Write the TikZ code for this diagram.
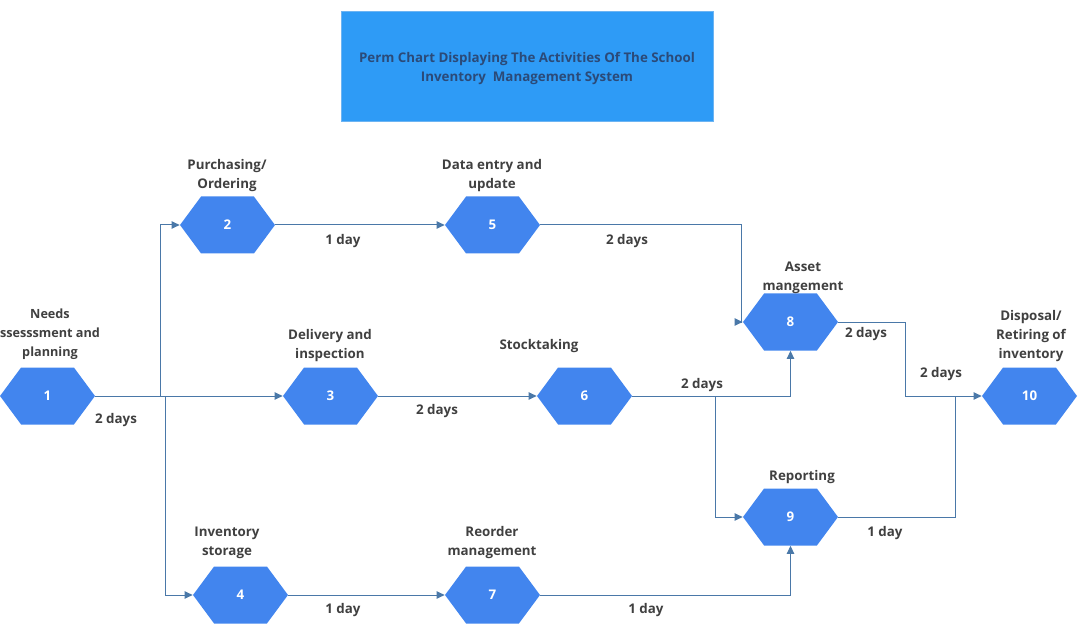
\documentclass[tikz,border=0pt]{standalone}
\usepackage{fontspec}
\setmainfont{Open Sans}
\usepackage{tikz}
\usetikzlibrary{arrows.meta,shapes.symbols}
\definecolor{hexblue}{HTML}{4285EE}
\definecolor{titleblue}{HTML}{2E9BF6}
\definecolor{titleedge}{HTML}{6DB4F2}
\definecolor{titleink}{HTML}{2B4A78}
\definecolor{lineblue}{HTML}{4A78A8}
\definecolor{labelink}{HTML}{404040}
\tikzset{
  activity/.style={signal,signal to=west and east,signal pointer angle=107,fill=hexblue,
    text=white,font=\bfseries\fontsize{10}{11}\selectfont,inner sep=0pt,
    minimum width=71.25pt,minimum height=42.75pt},
  caption/.style={align=center,text=labelink,font=\bfseries\fontsize{10}{14.25}\selectfont,inner sep=0pt},
  conn/.style={draw=lineblue,line width=0.75pt,-{Triangle[length=6pt,width=5.5pt]}},
  plainconn/.style={draw=lineblue,line width=0.75pt}
}
\begin{document}
\begin{tikzpicture}[x=0.75pt,y=-0.75pt]
      \useasboundingbox (0,0) rectangle (1079,631);
      \node[draw=titleedge,fill=titleblue,minimum width=279pt,minimum height=82.5pt,inner sep=0pt] (title) at (527,66) {};
      \node[align=center,text=titleink,font=\bfseries\fontsize{10}{14.25}\selectfont,inner sep=0pt] (titletext) at (527,69)
        {Perm Chart Displaying The Activities Of The School\\Inventory\ \ Management System};
      % activities
      \node[activity] (n1) at (47.5,396) {1};
      \node[activity] (n2) at (227.5,225) {2};
      \node[activity] (n3) at (330.5,396) {3};
      \node[activity] (n4) at (240.5,595) {4};
      \node[activity] (n5) at (492.5,225) {5};
      \node[activity] (n6) at (584.5,396) {6};
      \node[activity] (n7) at (492.5,595) {7};
      \node[activity] (n8) at (790.5,322) {8};
      \node[activity] (n9) at (790.5,517) {9};
      \node[activity] (n10) at (1029.5,396) {10};
      % bends
      \coordinate (b2) at (160,225);
      \coordinate (b4) at (165,595);
      \coordinate (b58) at (741,322);
      \coordinate (b69) at (715,517);
      \coordinate (b810) at (905,396);
      \coordinate (b910) at (955,396);
      % connectors
      \draw[conn] (n1.east) -- (n3.west);
      \draw[conn] (n1.east) -| (b2) -- (n2.west);
      \draw[conn] (n1.east) -| (b4) -- (n4.west);
      \draw[conn] (n2.east) -- (n5.west);
      \draw[conn] (n5.east) -| (b58) -- (n8.west);
      \draw[conn] (n3.east) -- (n6.west);
      \draw[conn] (n6.east) -| (n8.south);
      \draw[conn] (n6.east) -| (b69) -- (n9.west);
      \draw[conn] (n4.east) -- (n7.west);
      \draw[conn] (n7.east) -| (n9.south);
      \draw[conn] (n8.east) -| (b810) -- (n10.west);
      \draw[plainconn] (n9.east) -| (b910);
      % activity names
      \node[caption,font=\bfseries\fontsize{9.5}{14.25}\selectfont] (c1) at (50,334) {Needs\\ssesssment and\\planning};
      \node[caption] (c2) at (227,176) {Purchasing/\\Ordering};
      \node[caption] (c3) at (330,346) {Delivery and\\inspection};
      \node[caption] (c4) at (227,543) {Inventory\\storage};
      \node[caption] (c5) at (492,176) {Data entry and\\update};
      \node[caption] (c6) at (539,346) {Stocktaking};
      \node[caption] (c7) at (492,543) {Reorder\\management};
      \node[caption] (c8) at (803,278) {Asset\\mangement};
      \node[caption] (c9) at (802,477) {Reporting};
      \node[caption] (c10) at (1031,336) {Disposal/\\Retiring of\\inventory};
      % durations
      \node[caption] (d13) at (116,420) {2 days};
      \node[caption] (d25) at (343,241) {1 day};
      \node[caption] (d58) at (627,241) {2 days};
      \node[caption] (d36) at (437,411) {2 days};
      \node[caption] (d68) at (702,385) {2 days};
      \node[caption] (d810) at (866,334) {2 days};
      \node[caption] (d910a) at (941,374) {2 days};
      \node[caption] (d910) at (885,533) {1 day};
      \node[caption] (d47) at (343,610) {1 day};
      \node[caption] (d79) at (646,610) {1 day};
\end{tikzpicture}
\end{document}
